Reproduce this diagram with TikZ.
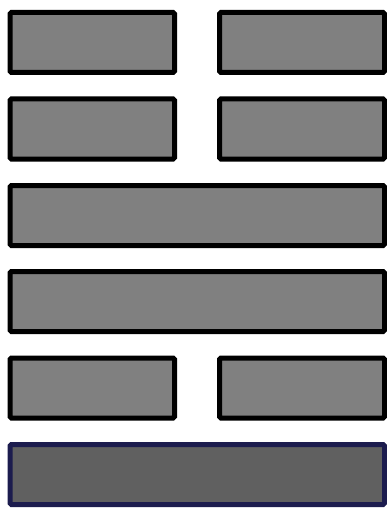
\documentclass[tikz,border=0pt]{standalone}
\begin{document}
\begin{tikzpicture}[x=1pt,y=-1pt,
  bar/.style={draw=black,fill=barfill,line width=5pt,rounded corners=1.5pt},
  lastbar/.style={draw=navyedge,fill=darkfill,line width=5pt,rounded corners=1.5pt}]
\definecolor{barfill}{HTML}{808080}
\definecolor{darkfill}{HTML}{606060}
\definecolor{navyedge}{HTML}{1C1C4E}
\useasboundingbox (0,0) rectangle (387,508);
% row 1
\path[bar] (10,12.5) rectangle (174.5,72.5);
\path[bar] (219.5,12.5) rectangle (384.5,72.5);
% row 2
\path[bar] (10,99) rectangle (174.5,159);
\path[bar] (219.5,99) rectangle (384.5,159);
% row 3
\path[bar] (10,185.5) rectangle (384.5,245.5);
% row 4
\path[bar] (10,271.5) rectangle (384.5,331.5);
% row 5
\path[bar] (10,358) rectangle (174.5,418);
\path[bar] (219.5,358) rectangle (384.5,418);
% row 6
\path[lastbar] (10,444.5) rectangle (384.5,504.5);
\end{tikzpicture}
\end{document}
